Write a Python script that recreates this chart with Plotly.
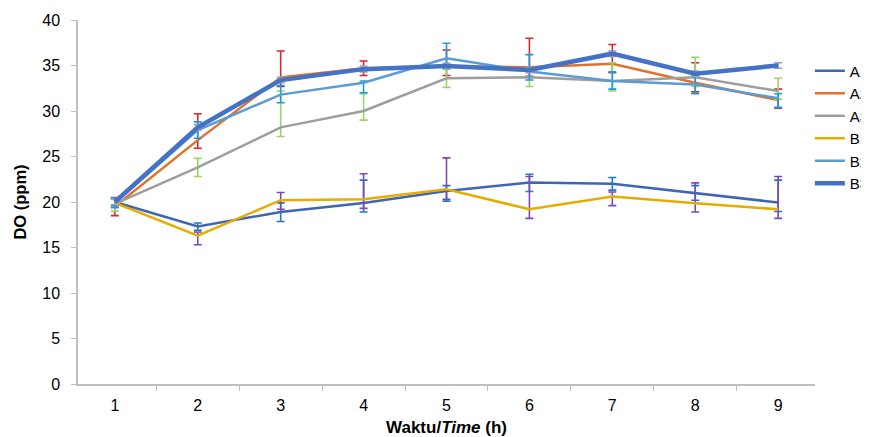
import plotly.graph_objects as go

time_labels = ["1", "2", "3", "4", "5", "6", "7", "8", "9"]
y_ticks = [0, 5, 10, 15, 20, 25, 30, 35, 40]

series_names = ["A1", "A2", "A3", "B1", "B2", "B3"]

a1 = [20.0, 17.3, 18.9, 19.9, 21.2, 22.15, 22.0, 21.0, 19.95]
a2 = [19.5, 26.8, 33.7, 34.7, 34.9, 34.8, 35.2, 33.1, 31.2]
a3 = [19.8, 23.8, 28.2, 30.0, 33.6, 33.7, 33.3, 33.7, 32.2]
b1 = [19.9, 16.3, 20.2, 20.3, 21.4, 19.2, 20.6, 19.85, 19.2]
b2 = [19.9, 27.9, 31.8, 33.1, 35.8, 34.35, 33.3, 32.9, 31.4]
b3 = [20.0, 28.2, 33.4, 34.6, 34.95, 34.5, 36.3, 34.1, 35.0]

a1_plus = [0.4, 0.4, 1.0, 2.5, 0.6, 0.9, 0.7, 0.8, 2.45]
a1_minus = [0.4, 0.4, 1.05, 1.0, 1.1, 1.0, 0.7, 0.8, 1.0]
a2_plus = [1.0, 2.9, 2.9, 0.8, 1.8, 3.2, 2.1, 2.2, 1.2]
a2_minus = [1.0, 0.9, 1.0, 0.8, 1.0, 1.0, 1.0, 1.0, 0.9]
a3_plus = [0.6, 1.0, 4.0, 1.9, 1.0, 1.0, 2.0, 2.2, 1.4]
a3_minus = [0.8, 1.0, 1.0, 1.0, 1.0, 1.0, 1.1, 1.0, 0.9]
b1_plus = [0.5, 0.4, 0.85, 2.8, 3.45, 3.6, 0.5, 2.25, 3.6]
b1_minus = [0.5, 1.0, 1.0, 1.0, 1.1, 1.0, 1.0, 0.95, 1.0]
b2_plus = [0.5, 0.9, 1.0, 0.2, 1.65, 1.85, 1.0, 1.0, 0.5]
b2_minus = [0.5, 0.9, 0.9, 1.1, 1.0, 0.95, 0.9, 1.0, 1.0]
b3_plus = [0.3, 0.3, 0.3, 0.3, 0.3, 0.3, 0.3, 0.3, 0.3]
b3_minus = [0.3, 0.3, 0.3, 0.3, 0.3, 0.3, 0.3, 0.3, 0.3]

values = [a1, a2, a3, b1, b2, b3]
plus = [a1_plus, a2_plus, a3_plus, b1_plus, b2_plus, b3_plus]
minus = [a1_minus, a2_minus, a3_minus, b1_minus, b2_minus, b3_minus]
line_colors = ["#3F66B4", "#E2712B", "#9E9E9E", "#E6AC00", "#5B9BD5", "#4472C4"]
line_widths = [2.5, 2.5, 2.5, 2.5, 2.5, 4.5]
err_colors = ["#1F78C8", "#D42A2A", "#9BD466", "#7D47B5", "#1E9BE0", "#8EA4C0"]

fig = go.Figure()
for i, name in enumerate(series_names):
    fig.add_trace(go.Scatter(
        x=time_labels, y=values[i], name=name, mode="lines",
        line=dict(color=line_colors[i], width=line_widths[i]),
        legendgroup=name,
        error_y=dict(type="data", symmetric=False, array=plus[i], arrayminus=minus[i],
                     color=err_colors[i], thickness=1.6, width=4),
    ))

fig.update_layout(
    width=869, height=437,
    margin=dict(l=70, r=62, t=12, b=61, autoexpand=False),
    paper_bgcolor="white", plot_bgcolor="white",
    font=dict(family="Liberation Sans, Arial, sans-serif", size=14, color="#000000"),
    showlegend=True,
    legend=dict(x=0.993, xanchor="left", y=0.905, yanchor="top",
                font=dict(size=15), tracegroupgap=0, bgcolor="rgba(0,0,0,0)"),
)
fig.update_xaxes(
    type="category", tickson="boundaries", ticks="outside", ticklen=5,
    tickcolor="#BFBFBF", showline=True, linecolor="#BFBFBF", linewidth=1.5,
    showgrid=False, zeroline=False, tickfont=dict(size=16), ticklabelstandoff=6,
    title=dict(text="<b>Waktu/<i>Time</i> (h)</b>", font=dict(size=17), standoff=8),
)
fig.update_yaxes(
    range=[0, 40], tickvals=y_ticks, ticks="outside", ticklen=5,
    tickcolor="#BFBFBF", showline=True, linecolor="#BFBFBF", linewidth=1.5,
    showgrid=False, zeroline=False, tickfont=dict(size=16), ticklabelstandoff=8,
    title=dict(text="<b>DO (ppm)</b>", font=dict(size=16.5), standoff=11),
)

fig.write_html("out.html")
